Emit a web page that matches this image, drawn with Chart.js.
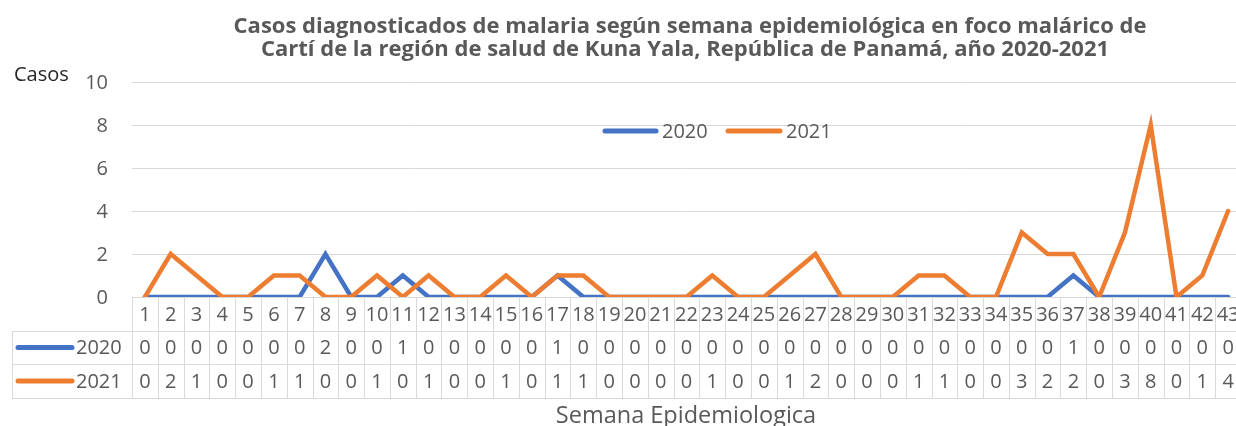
<!DOCTYPE html>
<html><head><meta charset="utf-8">
<script src="https://cdn.jsdelivr.net/npm/chart.js@4/dist/chart.umd.min.js"></script>
<style>html,body{margin:0;padding:0;background:#fff;overflow:hidden;width:1236px;height:426px}#wrap{width:1242px;height:426px;position:relative}</style>
</head><body><div id="wrap"><canvas id="c" width="1242" height="426"></canvas></div>
<script>
const weeks = ['1','2','3','4','5','6','7','8','9','10','11','12','13','14','15','16','17','18','19','20','21','22','23','24','25','26','27','28','29','30','31','32','33','34','35','36','37','38','39','40','41','42','43'];
const cases2020 = [0,0,0,0,0,0,0,2,0,0,1,0,0,0,0,0,1,0,0,0,0,0,0,0,0,0,0,0,0,0,0,0,0,0,0,0,1,0,0,0,0,0,0];
const cases2021 = [0,2,1,0,0,1,1,0,0,1,0,1,0,0,1,0,1,1,0,0,0,0,1,0,0,1,2,0,0,0,1,1,0,0,3,2,2,0,3,8,0,1,4];
const yTicks = [0,2,4,6,8,10];
const titleLines = ['Casos diagnosticados de malaria según semana epidemiológica en foco malárico de','Cartí de la región de salud de Kuna Yala, República de Panamá, año 2020-2021'];
const seriesNames = ['2020','2021'];
const colors = ['#4472C4','#ED7D31'];
const FONT = '"Open Sans", sans-serif';
const GRAY = '#595959';
const LINE = '#d9d9d9';

const deco = {
  id:'deco',
  afterDraw(chart){
    const ctx = chart.ctx, x = chart.scales.x, y = chart.scales.y, a = chart.chartArea;
    ctx.save();
    // title
    ctx.fillStyle = GRAY; ctx.textAlign='center'; ctx.textBaseline='alphabetic';
    ctx.font = 'bold 22px '+FONT;
    ctx.fillText(titleLines[0], 690, 33);
    ctx.fillText(titleLines[1], 685, 56);
    // Casos
    ctx.textBaseline='middle';
    ctx.fillStyle = '#262626'; ctx.textAlign='left'; ctx.font='20px '+FONT;
    ctx.fillText('Casos', 14, 75);
    // y ticks
    ctx.fillStyle = GRAY; ctx.textAlign='right'; ctx.font='20px '+FONT;
    yTicks.forEach(v=>ctx.fillText(String(v), 108, y.getPixelForValue(v)+1));
    // legend
    ctx.lineCap='round'; ctx.lineWidth=5;
    const leg = [[605,656,662],[728,780,786]];
    ctx.font='20px '+FONT; ctx.textAlign='left';
    leg.forEach((l,i)=>{
      ctx.strokeStyle=colors[i]; ctx.beginPath(); ctx.moveTo(l[0],131); ctx.lineTo(l[1],131); ctx.stroke();
      ctx.fillStyle=GRAY; ctx.fillText(seriesNames[i], l[2], 132);
    });
    // table
    const n = weeks.length, w = (a.right-a.left)/n;
    const r0 = a.bottom, r1 = r0+34, r2 = r1+33, r3 = r2+34, tl = 12;
    ctx.strokeStyle=LINE; ctx.lineWidth=1; ctx.lineCap='butt';
    ctx.beginPath();
    for(let i=0;i<=n;i++){ const px = Math.round(x.getPixelForValue(i)-w/2)+0.5; ctx.moveTo(px,r0); ctx.lineTo(px,r3); }
    [r1,r2,r3].forEach(r=>{ctx.moveTo(tl,r+0.5); ctx.lineTo(a.right+w,r+0.5);});
    ctx.moveTo(tl+0.5,r1); ctx.lineTo(tl+0.5,r3);
    ctx.stroke();
    ctx.fillStyle=GRAY; ctx.textAlign='center'; ctx.font='20px '+FONT;
    const rows=[cases2020,cases2021];
    for(let i=0;i<n;i++){
      const px = x.getPixelForValue(i);
      ctx.fillText(weeks[i], px, (r0+r1)/2+1);
      rows.forEach((d,k)=>ctx.fillText(String(d[i]), px, (k?(r2+r3):(r1+r2))/2+1));
    }
    // row keys
    ctx.lineCap='round'; ctx.lineWidth=5;
    rows.forEach((d,k)=>{
      const cy = k?(r2+r3)/2:(r1+r2)/2;
      ctx.strokeStyle=colors[k]; ctx.beginPath(); ctx.moveTo(18,cy); ctx.lineTo(72,cy); ctx.stroke();
      ctx.fillStyle=GRAY; ctx.textAlign='left'; ctx.fillText(seriesNames[k], 76, cy+1);
    });
    // x title
    ctx.textAlign='center'; ctx.textBaseline='alphabetic'; ctx.font='23.5px '+FONT; ctx.fillStyle=GRAY;
    ctx.fillText('Semana Epidemiologica', 686, 423);
    ctx.restore();
  }
};

new Chart(document.getElementById('c'), {
  type:'line',
  data:{labels:weeks, datasets:[
    {label:seriesNames[0], data:cases2020, borderColor:colors[0], borderWidth:4.5, pointRadius:0, tension:0, borderCapStyle:'round', borderJoinStyle:'miter', order:2},
    {label:seriesNames[1], data:cases2021, borderColor:colors[1], borderWidth:4.5, pointRadius:0, tension:0, borderCapStyle:'round', borderJoinStyle:'miter', order:1}
  ]},
  options:{
    responsive:false, animation:false, devicePixelRatio:1,
    layout:{padding:{left:132,right:1,top:82,bottom:129}},
    plugins:{legend:{display:false}, title:{display:false}, tooltip:{enabled:false}},
    scales:{
      x:{offset:true, ticks:{display:false}, grid:{display:false, drawTicks:false}, border:{display:false}, afterFit(s){s.height=0;}},
      y:{min:0,max:10, ticks:{display:false, stepSize:2}, grid:{color:LINE, lineWidth:1, drawTicks:false}, border:{display:false}, afterFit(s){s.width=0;}}
    }
  },
  plugins:[deco]
});
</script></body></html>
